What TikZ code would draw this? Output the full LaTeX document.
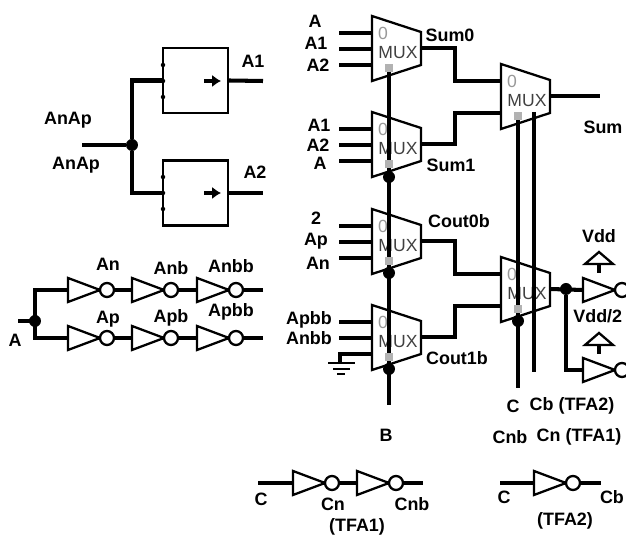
\documentclass[tikz,border=0pt]{standalone}
\usepackage{fontspec}
\setmainfont{Liberation Sans}
\usetikzlibrary{arrows.meta}
\tikzset{
  wire/.style={line width=2.3pt},
  gate/.style={line width=1.3pt,fill=white},
  lbl/.style={font=\fontsize{10.2}{12}\selectfont\bfseries,inner sep=0pt},
  muxtext/.style={font=\fontsize{10}{12}\selectfont,text=black!75,inner sep=0pt},
  muxzero/.style={font=\fontsize{10}{12}\selectfont,text=black!40,inner sep=0pt},
  seldot/.style={fill=black!30,minimum size=0.16cm,inner sep=0pt},
  jdot/.style={circle,fill=black,minimum size=0.24cm,inner sep=0pt},
  pindot/.style={circle,fill=black,minimum size=0.09cm,inner sep=0pt},
  ffbox/.style={draw,line width=1.3pt,minimum size=1.3cm,inner sep=0pt}
}
\newcommand{\mux}[3]{\begin{scope}[shift={(#2,#3)}]
  \draw[gate] (0,0) -- (49,16) -- (49,49) -- (0,65) -- cycle;
  \node[muxzero] (#1-z) at (11,17) {0};
  \node[muxtext] (#1-t) at (26,37) {MUX};
  \coordinate (#1-a) at (0,17);
  \coordinate (#1-b) at (0,33);
  \coordinate (#1-c) at (0,49);
  \coordinate (#1-o) at (49,32);
  \coordinate (#1-s) at (17,52);
\end{scope}}
\newcommand{\inv}[3]{\begin{scope}[shift={(#2,#3)}]
  \draw[gate] (0,-12) -- (32,0) -- (0,12) -- cycle;
  \draw[gate] (39,0) circle (0.14cm);
  \coordinate (#1-i) at (0,0);
  \coordinate (#1-o) at (46,0);
\end{scope}}
\newcommand{\vddsym}[2]{\draw[gate] (#1-14,#2) -- (#1,#2-12) -- (#1+14,#2) -- cycle; \draw[wire] (#1,#2) -- (#1,#2+9);}
\begin{document}
\begin{tikzpicture}[x=0.02cm,y=-0.02cm]
  \clip (0,0) rectangle (626,536);

  % latches
  \node[ffbox] (box1) at (195.5,80.5) {};
  \node[ffbox] (box2) at (195.5,193) {};
  \foreach \py in {65,81,97,177,193,209} {
    \node[pindot] (pin\py) at (163,\py) {};
  }
  \coordinate (ain) at (82,145);
  \coordinate (a1out) at (263,81);
  \coordinate (a2out) at (263,193);
  \node[jdot] (ajoin) at (132,145) {};
  \draw[wire] (ain) -- (ajoin);
  \draw[wire] (ajoin) |- (box1.west);
  \draw[wire] (ajoin) |- (box2.west);
  \draw[wire] (box1.east) -- (a1out);
  \draw[wire] (box2.east) -- (a2out);
  \coordinate (arr1a) at (204,81);
  \coordinate (arr1b) at (221,81);
  \coordinate (arr2a) at (204,193);
  \coordinate (arr2b) at (221,193);
  \draw[wire,-{Latex[length=5pt,width=7pt]}] (arr1a) -- (arr1b);
  \draw[wire,-{Latex[length=5pt,width=7pt]}] (arr2a) -- (arr2b);
  \node[lbl] (la1) at (253,61) {A1};
  \node[lbl] (la2) at (255,172) {A2};
  \node[lbl] (lanap1) at (68,120) {AnAp};
  \node[lbl] (lanap2) at (76,165) {AnAp};

  % inverter chains
  \coordinate (bin) at (18,321);
  \coordinate (bt) at (35,290);
  \coordinate (bb) at (35,338);
  \coordinate (tend) at (263,290);
  \coordinate (bend) at (263,338);
  \draw[wire] (bin) -- (35,321);
  \draw[wire] (bt -| tend) -- (bt) -- (bb) -- (bend);
  \inv{t1}{68}{290} \inv{t2}{132}{290} \inv{t3}{197}{290}
  \inv{u1}{68}{338} \inv{u2}{132}{338} \inv{u3}{197}{338}
  \node[jdot] (bjoin) at (35,321) {};
  \node[lbl] (lan) at (108,264) {An};
  \node[lbl] (lanb) at (171,268) {Anb};
  \node[lbl] (lanbb) at (231,266) {Anbb};
  \node[lbl] (lap) at (108,319) {Ap};
  \node[lbl] (lapb) at (171,318) {Apb};
  \node[lbl] (lapbb) at (231,312) {Apbb};
  \node[lbl] (lA) at (15,340) {A};

  % muxes
  \mux{m1}{372}{16}
  \mux{m2}{372}{112}
  \mux{m3}{501}{64}
  \mux{m4}{372}{209}
  \mux{m5}{372}{305}
  \mux{m6}{501}{257}

  % data inputs
  \foreach \mname in {m1,m2,m4,m5} {
    \draw[wire] (\mname-a) -- ++(-33,0);
    \draw[wire] (\mname-b) -- ++(-33,0);
  }
  \foreach \mname in {m1,m2,m4} {
    \draw[wire] (\mname-c) -- ++(-33,0);
  }
  \coordinate (gnd) at (340,363);
  \draw[wire] (m5-c) -| (gnd);
  \draw[line width=1.1pt] (328,363) -- (355,363);
  \draw[line width=1.1pt] (333,369) -- (350,369);
  \draw[line width=1.1pt] (337,374) -- (345,374);

  % outputs to second stage
  \coordinate (kink) at (455,0);
  \draw[wire] (m1-o) -- (m1-o -| kink) |- (m3-a);
  \draw[wire] (m2-o) -- (m2-o -| kink) |- (m3-c);
  \draw[wire] (m4-o) -- (m4-o -| kink) |- (m6-a);
  \draw[wire] (m5-o) -- (m5-o -| kink) |- (m6-c);
  \coordinate (sumout) at (600,96);
  \draw[wire] (m3-o) -- (sumout);

  % select lines
  \coordinate (bbot) at (389,405);
  \coordinate (cbot) at (518,388);
  \coordinate (cbtop) at (534,112);
  \coordinate (cbbot) at (534,372);
  \draw[wire] (m1-s) -- (bbot);
  \draw[wire] (m3-s) -- (cbot);
  \draw[wire] (cbtop) -- (cbbot);
  \node[jdot] (j1) at (389,177) {};
  \node[jdot] (j2) at (389,273) {};
  \node[jdot] (j3) at (389,369) {};
  \node[jdot] (j4) at (518,321) {};
  \foreach \mname in {m1,m2,m3,m4,m5,m6} {
    \node[seldot] (\mname-q) at (\mname-s) {};
  }

  % output buffers
  \inv{v1}{583}{290}
  \inv{v2}{583}{370}
  \node[jdot] (j5) at (566,289) {};
  \draw[wire] (m6-o) -- (v1-i);
  \draw[wire] (j5) |- (v2-i);
  \vddsym{599}{264}
  \vddsym{599}{345}

  % mux labels
  \node[lbl] (l1) at (315,21) {A};
  \node[lbl] (l2) at (316,43) {A1};
  \node[lbl] (l3) at (318,65) {A2};
  \node[lbl] (l4) at (450,35) {Sum0};
  \node[lbl] (l5) at (319,125) {A1};
  \node[lbl] (l6) at (318,145) {A2};
  \node[lbl] (l7) at (320,163) {A};
  \node[lbl] (l8) at (451,165) {Sum1};
  \node[lbl] (l9) at (603,127) {Sum};
  \node[lbl] (l10) at (316,218) {2};
  \node[lbl] (l11) at (316,241) {Ap};
  \node[lbl] (l12) at (318,263) {An};
  \node[lbl] (l13) at (459,221) {Cout0b};
  \node[lbl] (l14) at (309,320) {Apbb};
  \node[lbl] (l15) at (309,338) {Anbb};
  \node[lbl] (l16) at (457,358) {Cout1b};
  \node[lbl] (l17) at (599,236) {Vdd};
  \node[lbl,anchor=west] (l18) at (573,316) {Vdd/2};
  \node[lbl] (l19) at (513,406) {C};
  \node[lbl] (l20) at (572,406) {Cb (TFA2)};
  \node[lbl] (l21) at (510,437) {Cnb};
  \node[lbl] (l22) at (579,437) {Cn (TFA1)};
  \node[lbl] (l23) at (386,435) {B};

  % bottom chains
  \coordinate (c1in) at (258,483);
  \coordinate (c1out) at (423,483);
  \coordinate (c2in) at (500,483);
  \coordinate (c2out) at (601,483);
  \draw[wire] (c1in) -- (c1out);
  \draw[wire] (c2in) -- (c2out);
  \inv{c1}{293}{483} \inv{c2}{357}{483}
  \inv{c3}{534}{483}
  \node[lbl] (l24) at (261,499) {C};
  \node[lbl] (l25) at (333,504) {Cn};
  \node[lbl] (l26) at (412,504) {Cnb};
  \node[lbl] (l27) at (357,527) {(TFA1)};
  \node[lbl] (l28) at (504,497) {C};
  \node[lbl] (l29) at (612,497) {Cb};
  \node[lbl] (l30) at (565,521) {(TFA2)};
\end{tikzpicture}
\end{document}
